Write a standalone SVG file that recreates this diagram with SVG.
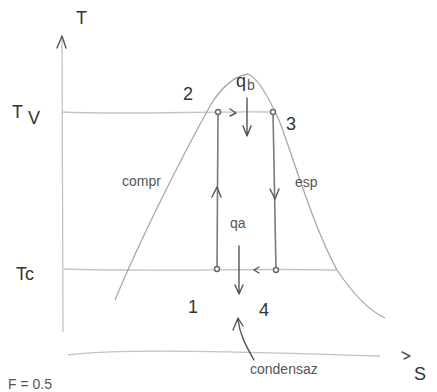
<svg xmlns="http://www.w3.org/2000/svg" width="437" height="392" viewBox="0 0 437 392">
<style>
.ax{fill:none;stroke:#c4c4c4;stroke-width:1.3}
.dome{fill:none;stroke:#a8a8a8;stroke-width:1.3}
.proc{fill:none;stroke:#7a7a7a;stroke-width:1.6}
.ah{fill:none;stroke:#555;stroke-width:1.4;stroke-linecap:round;stroke-linejoin:round}
.t{font-family:"Liberation Sans",Arial,sans-serif;fill:#333;font-size:18px}
.s{font-family:"Liberation Sans",Arial,sans-serif;fill:#555;font-size:14px}
.pt{fill:#fff;stroke:#666;stroke-width:1.4}
</style>
<rect width="437" height="392" fill="#fff"/>
<g id="axes">
<path class="ax" d="M62,38 L63,332"/>
<path class="ah" d="M57,48 L62,36 L66,48"/>
<text class="t" x="76" y="24">T</text>
<path class="ax" d="M68,355 C120,348 250,352 380,356"/>
<path class="ah" d="M402,352 L410,356 L404,359"/>
<text class="t" x="414" y="380">S</text>
<path class="ax" d="M62,112 C130,115 200,111 273,112"/>
<text class="t" x="12" y="118">T</text><text class="t" x="28" y="124">V</text>
<path class="ax" d="M64,269 C150,272 260,268 337,270"/>
<text class="t" x="16" y="280">Tc</text>
</g>
<g id="dome">
<path class="dome" d="M115,300 C140,240 180,160 210,106 C222,86 236,76 248,74 C258,78 268,96 278,118 C288,140 310,220 337,270 C355,297 372,312 385,318"/>
</g>
<g id="connectors">
<path class="proc" d="M218,111 L217,269"/>
<path class="ah" d="M212,197 L217,187 L221,197"/>
<path class="proc" d="M273,112 L276,270"/>
<path class="ah" d="M270,189 L275,199 L279,189"/>
<path class="ah" d="M230,109 L236,113 L230,116"/>
<path class="ah" d="M247,98 L247,135 M243,126 L247,136 L251,126"/>
<path class="ah" d="M239,246 L239,293 M235,285 L239,294 L243,285"/>
<path class="ah" d="M259,267 L254,270 L259,273"/>
<path class="ah" d="M254,360 C246,346 240,335 238,320 M233,330 L238,318 L243,326"/>
</g>
<g id="points">
<circle class="pt" cx="218" cy="112" r="2.5"/>
<circle class="pt" cx="273" cy="112" r="2.5"/>
<circle class="pt" cx="217" cy="269" r="2.5"/>
<circle class="pt" cx="276" cy="270" r="2.5"/>
<text class="t" x="183" y="100">2</text>
<text class="t" x="286" y="130">3</text>
<text class="t" x="188" y="313">1</text>
<text class="t" x="259" y="316">4</text>
</g>
<g id="labels">
<text class="t" x="236" y="87">q</text><text class="s" x="247" y="90">b</text>
<text class="s" x="230" y="228">qa</text>
<text class="s" x="122" y="186">compr</text>
<text class="s" x="295" y="187">esp</text>
<text class="s" x="250" y="374">condensaz</text>
<text class="s" x="8" y="389">F = 0.5</text>
</g>
</svg>
